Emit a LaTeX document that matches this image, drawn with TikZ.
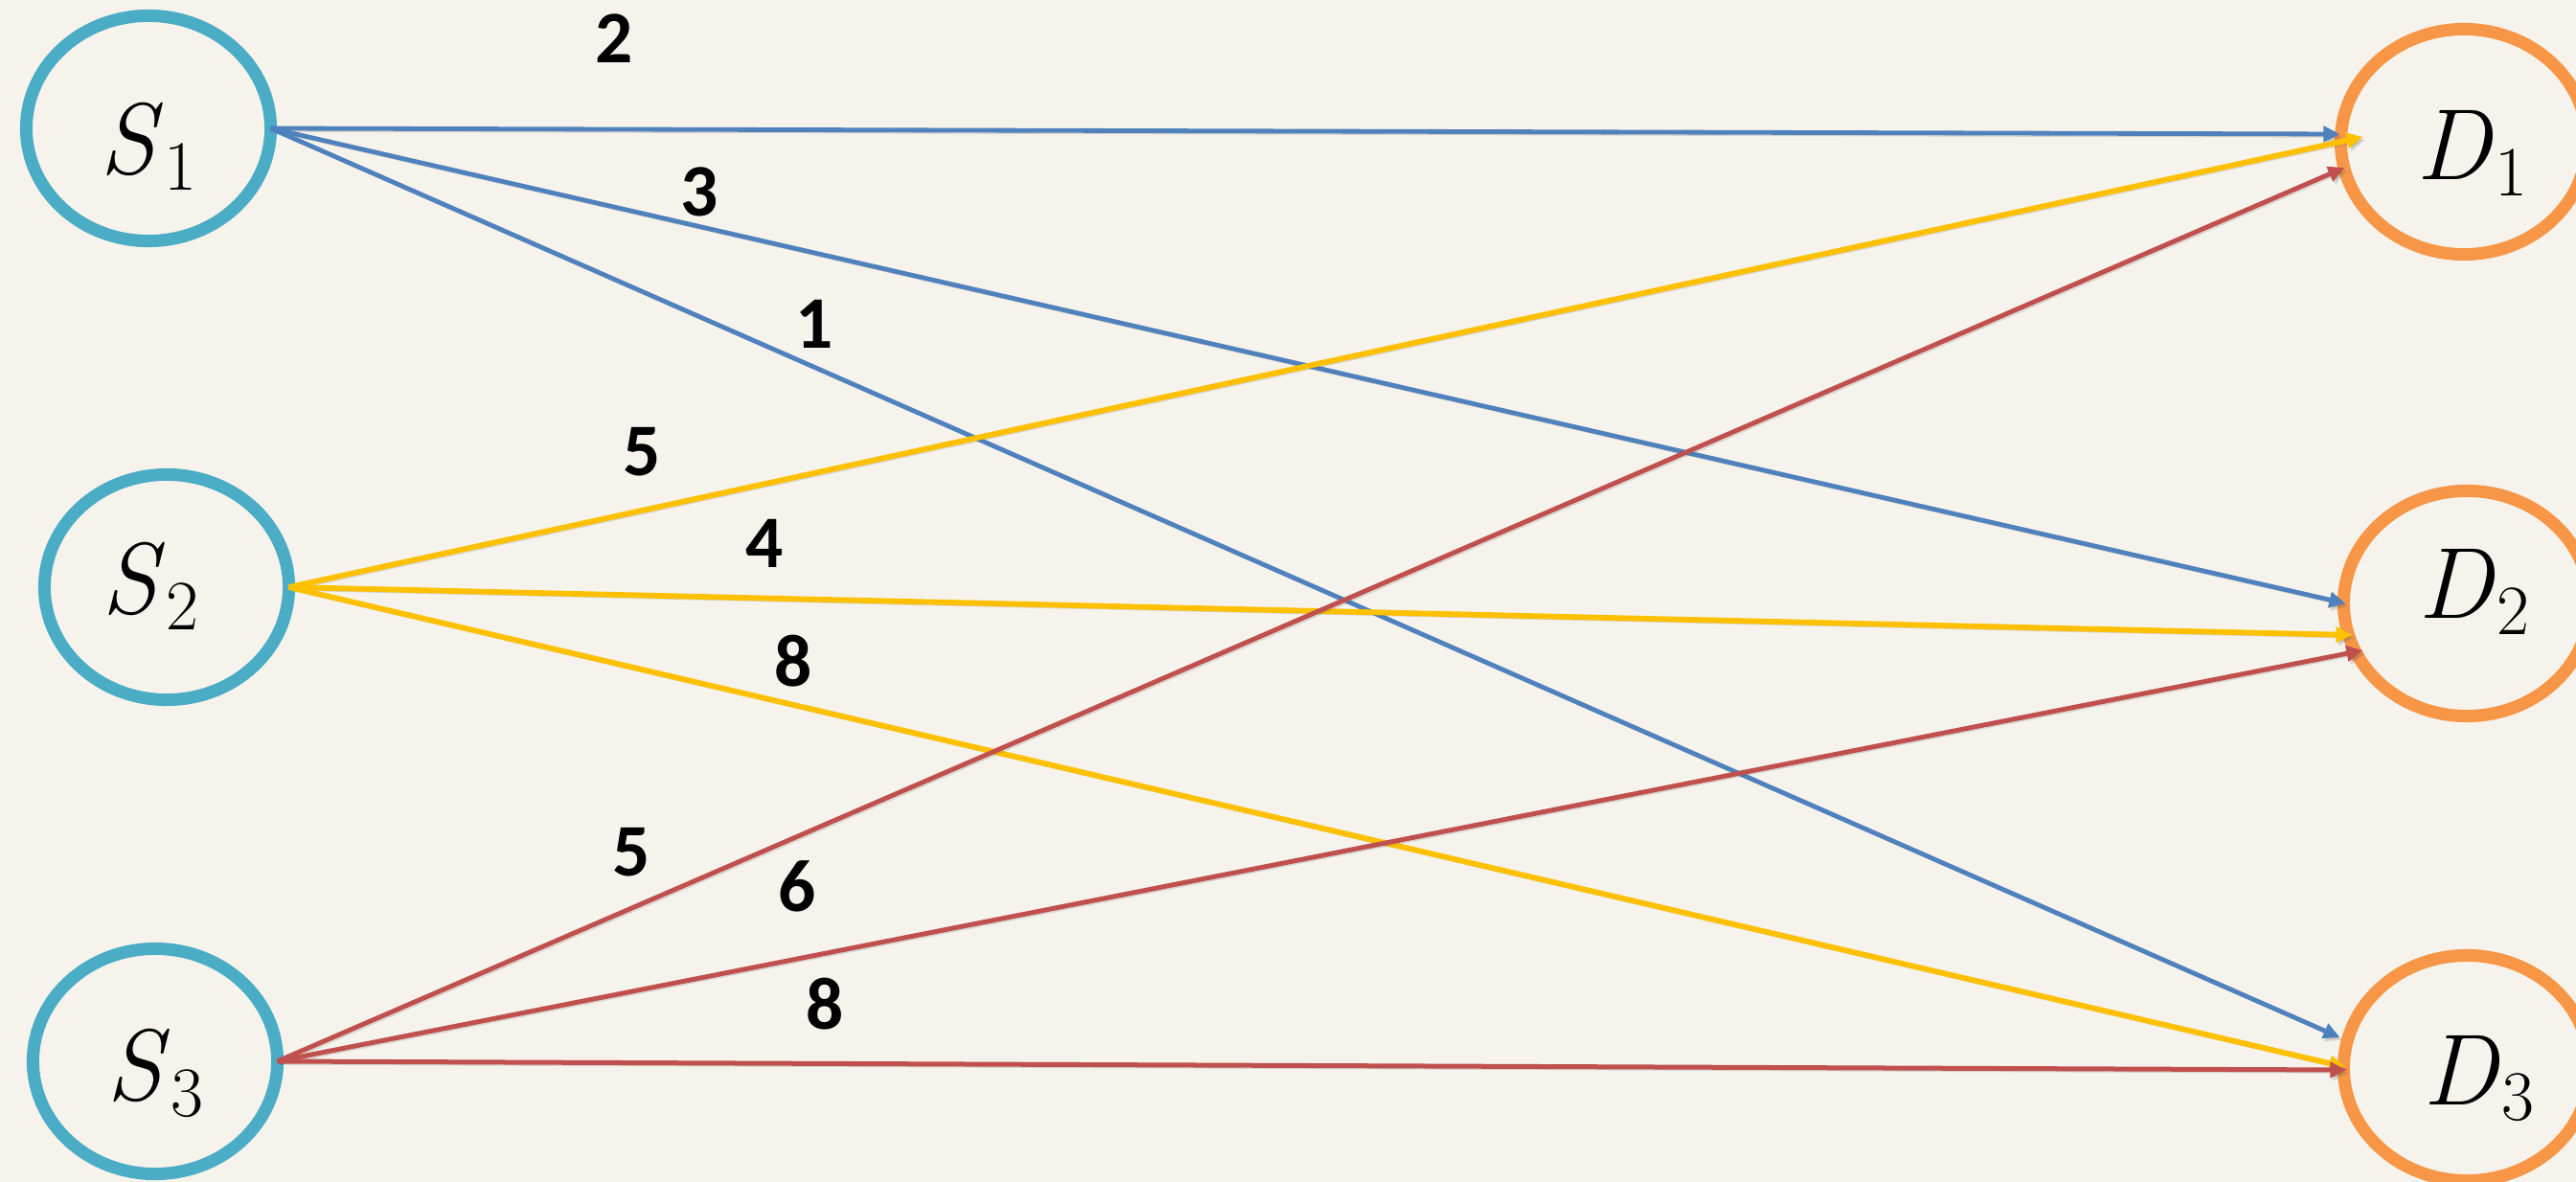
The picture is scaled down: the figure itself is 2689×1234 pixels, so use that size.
\documentclass[tikz,border=0pt]{standalone}
\usepackage{fontspec}
\newfontfamily\numfont{Carlito}
\usetikzlibrary{arrows.meta,calc,shapes.geometric}
\definecolor{bgc}{HTML}{F5F3EB}
\definecolor{srcc}{HTML}{4BACC6}
\definecolor{dstc}{HTML}{F79646}
\definecolor{eblue}{HTML}{4F81BD}
\definecolor{eyellow}{HTML}{FFC000}
\definecolor{ered}{HTML}{C0504D}
\newcommand\nodelab[2]{\textit{#1}\kern0.02em\raisebox{-0.16em}{\fontsize{21}{24}\selectfont #2}}
\begin{document}
\begin{tikzpicture}[x=0.01cm,y=-0.01cm,
  src/.style={ellipse, draw=srcc, line width=0.13cm, minimum width=2.55cm, minimum height=2.35cm, inner sep=0pt, outer sep=0pt},
  dst/.style={ellipse, draw=dstc, line width=0.13cm, minimum width=2.57cm, minimum height=2.35cm, inner sep=0pt, outer sep=0pt},
  lab/.style={font=\fontsize{30}{36}\selectfont, inner sep=0pt},
  wt/.style={font=\numfont\bfseries\fontsize{22}{26}\selectfont, inner sep=0pt, text=black},
  shad/.style={preaction={draw=black!70, opacity=0.18, transform canvas={shift={(0.025cm,-0.03cm)}}}},
  arr/.style={shad, -{Triangle[length=0.17cm,width=0.16cm]}},
  eb/.style={arr, draw=eblue, line width=0.048cm},
  ey/.style={arr, draw=eyellow, line width=0.058cm},
  er/.style={arr, draw=ered, line width=0.05cm}]
\fill[bgc] (0,0) rectangle (2689,1234);
\useasboundingbox (0,0) rectangle (2689,1234);
% sources
\node[src, label={[lab, yshift=-0.19cm]center:\nodelab{S}{1}}] (S1) at (155,134) {};
\node[src, label={[lab, xshift=-0.17cm, yshift=0.01cm]center:\nodelab{S}{2}}] (S2) at (174,613) {};
\node[src, label={[lab, yshift=-0.12cm]center:\nodelab{S}{3}}] (S3) at (162,1108) {};
% destinations
\node[dst, label={[lab, xshift=0.08cm, yshift=-0.12cm]center:\nodelab{D}{1}}] (D1) at (2572,148) {};
\node[dst, label={[lab, xshift=0.07cm, yshift=0.12cm]center:\nodelab{D}{2}}] (D2) at (2575,630) {};
\node[dst, label={[lab, xshift=0.12cm, yshift=-0.11cm]center:\nodelab{D}{3}}] (D3) at (2575,1115) {};
% edges from S1
\draw[eb] (S1.east) -- ($(D1.west)+(-1,-8)$);
\draw[eb] (S1.east) -- ($(D2.west)+(2,0)$);
\draw[eb] (S1.east) -- ($(D3.west)+(-4,-32)$);
% edges from S2
\draw[ey] (S2.east) -- ($(D1.west)+(23,-5)$);
\draw[ey] (S2.east) -- ($(D2.west)+(9,33)$);
\draw[ey] (S2.east) -- ($(D3.west)+(2,-1)$);
% edges from S3
\draw[er] (S3.east) -- ($(D1.west)+(4,27)$);
\draw[er] (S3.east) -- ($(D2.west)+(20,49)$);
\draw[er] (S3.east) -- ($(D3.west)+(3,2)$);
% weights
\node[wt] (w12) at (641,40) {2};
\node[wt] (w13) at (730,200) {3};
\node[wt] (w11) at (850,338) {1};
\node[wt] (w25) at (670,472) {5};
\node[wt] (w24) at (798,567) {4};
\node[wt] (w28) at (828,690) {8};
\node[wt] (w35) at (659,890) {5};
\node[wt] (w36) at (832,925) {6};
\node[wt] (w38) at (861,1048) {8};
\end{tikzpicture}
\end{document}
